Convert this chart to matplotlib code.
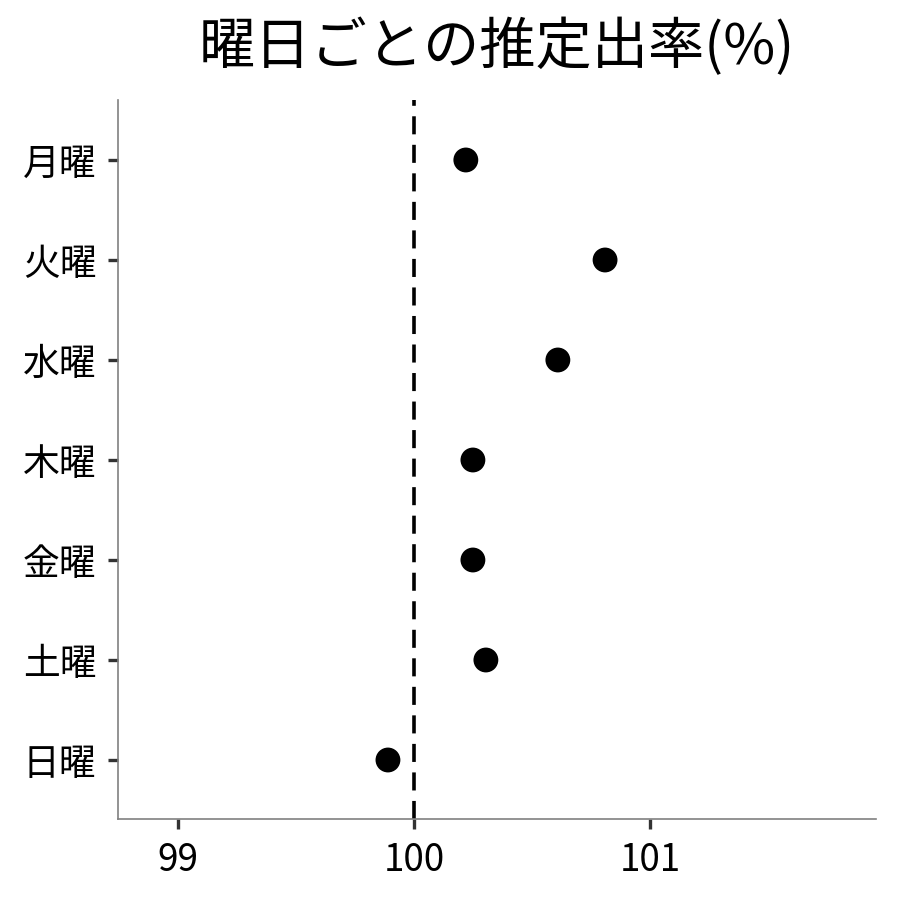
import matplotlib
matplotlib.use('Agg')
import matplotlib.pyplot as plt

plt.rcParams['font.family'] = ['Noto Sans CJK JP', 'DejaVu Sans']

days = ['月曜', '火曜', '水曜', '木曜', '金曜', '土曜', '日曜']
rate = [100.22, 100.81, 100.61, 100.25, 100.25, 100.305, 99.89]
xticks = [99, 100, 101]

fig = plt.figure(figsize=(9, 9), dpi=100)
ax = fig.add_axes([0.1311, 0.09, 0.8422, 0.7989])

ypos = list(range(len(days)))
ax.axvline(100, color='black', lw=2.6, ls=(0, (5, 2.9)), zorder=1)
ax.scatter(rate, ypos, s=320, color='black', zorder=3, edgecolors='none')

ax.set_xlim(98.746, 101.958)
ax.set_ylim(6.59, -0.6)
ax.set_yticks(ypos)
ax.set_yticklabels(days)
ax.set_xticks(xticks)
ax.set_xticklabels([str(t) for t in xticks])

for s in ['top', 'right']:
    ax.spines[s].set_visible(False)
for s in ['left', 'bottom']:
    ax.spines[s].set_color('#808080')
    ax.spines[s].set_linewidth(1.2)
ax.tick_params(axis='both', length=7.5, width=2.4, color='#333333', labelsize=26.5, labelcolor='black', pad=8)

ax.set_title('曜日ごとの推定出率(%)', fontsize=40.5, pad=26)

fig.savefig('out.png', dpi=100)
